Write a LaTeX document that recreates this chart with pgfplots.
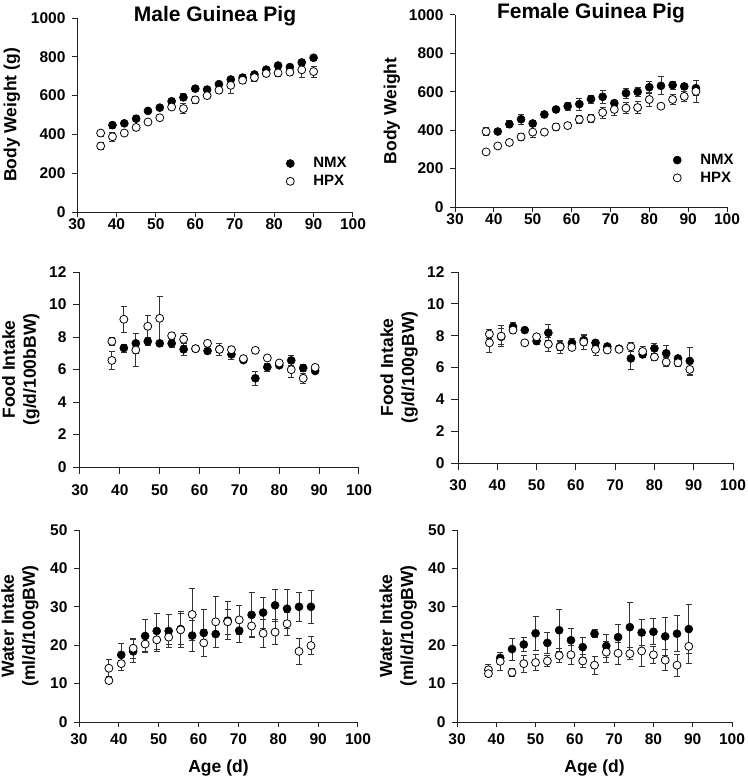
\documentclass[border=0pt]{standalone}
\usepackage{pgfplots}
\usepackage{pgfplotstable}
\pgfplotsset{compat=1.18}
\usepackage{fontspec}
\setmainfont{Liberation Sans}

\pgfplotstableread{
x y e
39 448 15
42 457 12
45 481 15
48 521 14
51 538 14
54 571 12
57 591 18
60 636 14
63 631 12
66 659 14
69 683 14
72 693 16
75 709 12
78 734 12
81 755 14
84 747 16
87 771 14
90 795 12
}\tlN
\pgfplotstableread{
x y e
36 340 18
36 407 16
39 388 22
42 407 12
45 436 16
48 464 15
51 486 14
54 541 12
57 533 26
60 578 18
63 600 16
66 628 16
69 653 40
72 679 14
75 693 18
78 714 14
81 717 20
84 721 16
87 733 38
90 724 28
}\tlH
\pgfplotstableread{
x y e
41 393 12
44 431 18
47 457 25
50 435 14
53 482 14
56 508 16
59 525 22
62 536 32
65 562 20
68 574 35
71 541 14
74 593 25
77 600 22
80 624 30
83 631 47
86 635 20
89 628 15
92 619 40
}\trN
\pgfplotstableread{
x y e
38 287 12
38 393 22
41 318 12
44 336 12
47 365 18
50 390 28
53 390 14
56 417 20
59 424 15
62 456 20
65 461 22
68 492 28
71 508 30
74 515 28
77 518 32
80 560 35
83 525 12
86 560 25
89 576 25
92 602 59
}\trH
\pgfplotstableread{
x y e
41 7.32 0.25
44 7.61 0.6
47 7.73 0.25
50 7.61 0.2
53 7.61 0.25
56 7.24 0.37
59 7.28 0.15
62 7.14 0.15
65 7.24 0.2
68 6.93 0.3
71 6.58 0.15
74 5.46 0.43
77 6.15 0.25
80 6.26 0.15
83 6.56 0.3
86 6.09 0.2
89 5.91 0.15
}\mlN
\pgfplotstableread{
x y e
38 7.73 0.25
38 6.56 0.55
41 9.09 0.8
44 7.20 1.0
47 8.66 0.68
50 9.15 1.37
53 8.08 0.18
56 7.86 0.37
59 7.28 0.15
62 7.61 0.15
65 7.24 0.35
68 7.22 0.2
71 6.67 0.15
74 7.18 0.2
77 6.71 0.15
80 6.40 0.15
83 5.99 0.45
86 5.46 0.33
89 6.13 0.15
}\mlH
\pgfplotstableread{
x y e
41 7.93 0.5
44 8.56 0.3
47 8.35 0.15
50 7.66 0.2
53 8.18 0.5
56 7.35 0.3
59 7.55 0.3
62 7.72 0.3
65 7.55 0.15
68 7.32 0.15
71 7.18 0.15
74 6.57 0.69
77 6.82 0.2
80 7.20 0.3
83 6.89 0.5
86 6.57 0.15
89 6.41 0.86
}\mrN
\pgfplotstableread{
x y e
38 8.10 0.3
38 7.55 0.58
41 7.97 0.67
44 8.35 0.2
47 7.55 0.15
50 7.93 0.15
53 7.47 0.45
56 7.30 0.4
59 7.26 0.2
62 7.60 0.45
65 7.14 0.4
68 7.10 0.15
71 7.14 0.15
74 7.30 0.3
77 7.01 0.3
80 6.66 0.2
83 6.34 0.3
86 6.30 0.2
89 5.88 0.4
}\mrH
\pgfplotstableread{
x y e
40.6 17.5 2.9
43.6 18.4 3.0
46.6 22.4 4.4
49.5 23.7 4.7
52.5 23.7 4.4
55.5 24.2 4.0
58.4 22.5 4.0
61.3 23.2 6.2
64.3 22.9 3.5
67.3 26.4 4.9
70.2 23.8 3.0
73.3 27.9 5.9
76.2 28.5 4.0
79.2 30.4 4.2
82.2 29.5 5.0
85.2 30.0 3.7
88.2 30.0 4.4
}\blN
\pgfplotstableread{
x y e
37.5 14.0 2.2
37.5 10.8 0.8
40.6 15.2 1.8
43.6 19.2 2.6
46.6 20.3 2.0
49.5 21.4 3.0
52.5 22.1 1.8
55.5 24.0 4.7
58.4 28.0 6.7
61.3 20.6 3.5
64.3 26.1 6.6
67.3 26.1 3.2
70.2 26.6 3.7
73.3 25.0 2.7
76.2 23.1 3.6
79.2 23.4 3.3
82.2 25.6 3.0
85.2 18.4 3.3
88.2 19.9 2.3
}\blH
\pgfplotstableread{
x y e
41 16.7 1.5
44 19.0 2.9
47 20.2 1.8
50 23.1 4.5
53 20.6 2.7
56 23.9 5.5
59 21.3 3.2
62 19.5 2.6
65 23.0 1.0
68 19.8 3.1
71 22.1 3.4
74 24.7 6.4
77 23.3 3.3
80 23.5 3.4
83 22.3 5.0
86 23.0 4.7
89 24.2 6.3
}\brN
\pgfplotstableread{
x y e
38 13.6 1.4
38 12.6 0.8
41 15.8 2.3
44 12.9 1.0
47 15.2 2.2
50 15.5 2.0
53 15.9 1.5
56 17.3 1.8
59 17.5 2.5
62 15.9 1.8
65 14.8 2.4
68 18.2 2.8
71 17.9 2.8
74 17.8 1.6
77 18.5 4.0
80 17.5 2.2
83 16.1 2.7
86 14.8 2.9
89 19.7 4.4
}\brH

\definecolor{axc}{HTML}{222222}
\definecolor{ebc}{HTML}{333333}

\pgfplotsset{
  gp/.style={
    scale only axis, anchor=south west,
    axis lines=left, axis line style={-, line width=1pt, axc},
    xmin=30, xmax=100, xtick={30,40,...,100},
    tick align=outside, major tick length=5pt,
    tick style={line width=1pt, axc},
    ticklabel style={font=\fontsize{15.5}{18}\selectfont\bfseries},
    yticklabel style={xshift=-3pt},
    label style={font=\fontsize{17.5}{21}\selectfont\bfseries, align=center},
    /pgf/number format/assume math mode=true,
    /pgf/number format/1000 sep={},
    title style={font=\fontsize{21}{25}\selectfont\bfseries, at={(0.5,1)}, anchor=center, yshift=-4pt},
    clip=false,
    legend style={draw=none, fill=none, font=\fontsize{15}{18}\selectfont\bfseries, row sep=2pt, cells={anchor=west}, inner sep=0pt},
    legend image code/.code={\draw[##1] plot coordinates {(5pt,0pt)}; \path[draw=none, fill=none] (0pt,-1pt) rectangle (26pt,1pt);},
  },
  nmx/.style={only marks, mark=*, mark size=4pt, mark options={fill=black, draw=black, line width=0.6pt},
    error bars/.cd, y dir=both, y explicit,
    error bar style={line width=0.8pt, ebc},
    error mark options={rotate=90, mark size=3pt, line width=0.8pt, ebc}},
  hpx/.style={only marks, mark=*, mark size=4pt, mark options={fill=white, draw=black, line width=0.8pt},
    error bars/.cd, y dir=both, y explicit,
    error bar style={line width=0.8pt, ebc},
    error mark options={rotate=90, mark size=3pt, line width=0.8pt, ebc}},
}

\begin{document}
\begin{tikzpicture}
\useasboundingbox (0pt,0pt) rectangle (747pt,-784pt);

% top left
\begin{axis}[gp, at={(77pt,-212pt)}, width=276pt, height=194pt,
  ymin=0, ymax=1000, ytick={0,200,...,1000},
  xticklabel style={yshift=2pt},
  title={Male Guinea Pig},
  ylabel={Body Weight (g)},
  ylabel style={at={(axis description cs:-0.2355,0.5)}, anchor=center},
  legend style={at={(axis description cs:0.754,0.204)}, anchor=west}]
\addplot[nmx] table[x=x, y=y, y error=e] {\tlN};
\addlegendentry{NMX}
\addplot[hpx] table[x=x, y=y, y error=e] {\tlH};
\addlegendentry{HPX}
\end{axis}

% top right
\begin{axis}[gp, at={(455pt,-207pt)}, width=272pt, height=192pt,
  ymin=0, ymax=1000, ytick={0,200,...,1000},
  xticklabel style={yshift=2pt},
  title={Female Guinea Pig},
  ylabel={Body Weight},
  ylabel style={at={(axis description cs:-0.2316,0.5)}, anchor=center},
  legend style={at={(axis description cs:0.798,0.198)}, anchor=west}]
\addplot[nmx] table[x=x, y=y, y error=e] {\trN};
\addlegendentry{NMX}
\addplot[hpx] table[x=x, y=y, y error=e] {\trH};
\addlegendentry{HPX}
\end{axis}

% middle left
\begin{axis}[gp, at={(80pt,-467pt)}, width=279pt, height=195pt,
  ymin=0, ymax=12, ytick={0,2,...,12},
  major tick length=7pt,
  xticklabel style={yshift=-7pt},
  ylabel={Food Intake\\(g/d/100bBW)},
  ylabel style={at={(axis description cs:-0.2115,0.5)}, anchor=center}]
\addplot[nmx] table[x=x, y=y, y error=e] {\mlN};
\addplot[hpx] table[x=x, y=y, y error=e] {\mlH};
\end{axis}

% middle right
\begin{axis}[gp, at={(458pt,-463pt)}, width=275pt, height=191pt,
  ymin=0, ymax=12, ytick={0,2,...,12},
  major tick length=7pt,
  xticklabel style={yshift=-6pt},
  ylabel={Food Intake\\(g/d/100gBW)},
  ylabel style={at={(axis description cs:-0.2145,0.5)}, anchor=center}]
\addplot[nmx] table[x=x, y=y, y error=e] {\mrN};
\addplot[hpx] table[x=x, y=y, y error=e] {\mrH};
\end{axis}

% bottom left
\begin{axis}[gp, at={(79pt,-722pt)}, width=279pt, height=192pt,
  ymin=0, ymax=50, ytick={0,10,...,50},
  xticklabel style={yshift=-3pt},
  xlabel={Age (d)},
  xlabel style={at={(axis description cs:0.5,-0.24)}, anchor=center},
  ylabel={Water Intake\\(ml/d/100gBW)},
  ylabel style={at={(axis description cs:-0.2115,0.5)}, anchor=center}]
\addplot[nmx] table[x=x, y=y, y error=e] {\blN};
\addplot[hpx] table[x=x, y=y, y error=e] {\blH};
\end{axis}

% bottom right
\begin{axis}[gp, at={(457pt,-722pt)}, width=275pt, height=192pt,
  ymin=0, ymax=50, ytick={0,10,...,50},
  xticklabel style={yshift=-3pt},
  xlabel={Age (d)},
  xlabel style={at={(axis description cs:0.5,-0.24)}, anchor=center},
  ylabel={Water Intake\\(ml/d/100gBW)},
  ylabel style={at={(axis description cs:-0.2145,0.5)}, anchor=center}]
\addplot[nmx] table[x=x, y=y, y error=e] {\brN};
\addplot[hpx] table[x=x, y=y, y error=e] {\brH};
\end{axis}
\end{tikzpicture}
\end{document}
